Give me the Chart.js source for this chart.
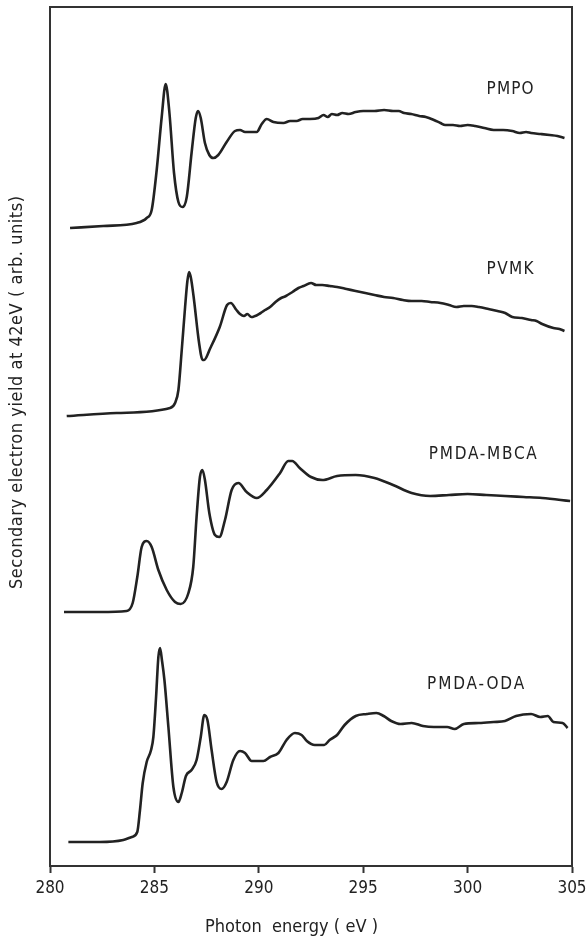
<!DOCTYPE html>
<html>
<head>
<meta charset="utf-8">
<script src="https://cdn.jsdelivr.net/npm/chart.js@4/dist/chart.umd.min.js"></script>
<style>
  html, body { margin: 0; padding: 0; background: #fff; }
  canvas { display: block; }
</style>
</head>
<body>
<canvas id="chart" width="586" height="939"></canvas>
<script>
// photon energy (eV) and secondary electron yield (arb. units, curves stacked)
const pmpoEnergy = [280.96, 282.55, 284.15, 284.63, 284.87, 285.11, 285.35, 285.54, 285.72, 285.94, 286.15, 286.35, 286.55, 286.78, 286.98, 287.09, 287.22, 287.42, 287.63, 287.82, 288.06, 288.46, 288.86, 289.1, 289.34, 289.9, 290.14, 290.38, 290.7, 291.18, 291.5, 291.81, 292.1, 292.45, 292.86, 293.1, 293.3, 293.5, 293.75, 294.0, 294.3, 294.64, 295.0, 295.54, 296.0, 296.43, 296.7, 296.96, 297.3, 297.68, 298.0, 298.39, 298.7, 298.93, 299.3, 299.64, 300.0, 300.36, 300.8, 301.25, 301.7, 302.14, 302.5, 302.8, 303.04, 303.5, 303.93, 304.3, 304.64];
const pmpoYield = [638, 640, 643, 648, 656, 696, 749, 782, 753, 693, 664, 659, 669, 713, 748, 755, 748, 723, 711, 708, 711, 724, 735, 736, 734, 734, 742, 747, 744, 743, 745, 745, 747, 747, 748, 751, 749, 752, 751, 753, 752, 754, 755, 755, 756, 755, 755, 753, 752, 750, 749, 746, 743, 741, 741, 740, 741, 740, 738, 736, 736, 735, 733, 734, 733, 732, 731, 730, 728];

const pvmkEnergy = [280.8, 283.19, 285.75, 285.99, 286.15, 286.31, 286.47, 286.58, 286.66, 286.75, 286.88, 287.14, 287.31, 287.38, 287.68, 288.13, 288.48, 288.66, 288.93, 289.1, 289.29, 289.45, 289.64, 290.09, 290.3, 290.54, 290.8, 291.07, 291.3, 291.61, 291.9, 292.14, 292.5, 292.75, 293.04, 293.4, 293.75, 294.2, 294.64, 295.1, 295.54, 296.0, 296.43, 296.9, 297.32, 297.8, 298.21, 298.7, 299.11, 299.46, 299.82, 300.2, 300.54, 301.0, 301.43, 301.8, 302.14, 302.6, 303.04, 303.3, 303.57, 304.11, 304.4, 304.64];
const pvmkYield = [450, 453, 458, 463, 476, 516, 559, 585, 594, 588, 569, 523, 506, 506, 518, 539, 561, 563, 556, 552, 550, 552, 549, 553, 556, 559, 564, 568, 570, 574, 578, 580, 583, 581, 581, 580, 579, 577, 575, 573, 571, 569, 568, 566, 565, 565, 564, 563, 561, 559, 560, 560, 559, 557, 555, 553, 549, 548, 546, 545, 542, 538, 537, 535];

const mbcaEnergy = [280.67, 282.39, 283.67, 283.96, 284.18, 284.39, 284.63, 284.87, 285.19, 285.59, 285.99, 286.26, 286.63, 286.86, 287.02, 287.18, 287.3, 287.42, 287.63, 287.9, 288.11, 288.38, 288.7, 289.02, 289.42, 289.9, 290.38, 291.02, 291.41, 291.6, 291.96, 292.5, 293.04, 293.75, 294.64, 295.54, 296.43, 297.32, 298.21, 299.11, 300.0, 300.89, 301.79, 302.68, 303.57, 304.91];
const mbcaYield = [254, 254, 255, 263, 289, 319, 325, 319, 296, 276, 264, 262, 273, 299, 349, 389, 396, 386, 353, 331, 329, 346, 376, 383, 374, 368, 376, 393, 405, 405, 398, 389, 386, 390, 391, 388, 381, 373, 370, 371, 372, 371, 370, 369, 368, 365];

const odaEnergy = [280.88, 282.39, 283.51, 283.91, 284.18, 284.31, 284.44, 284.63, 284.84, 284.95, 285.08, 285.19, 285.27, 285.36, 285.48, 285.67, 285.91, 286.15, 286.31, 286.51, 286.78, 287.02, 287.22, 287.39, 287.54, 287.74, 287.98, 288.22, 288.46, 288.78, 289.1, 289.34, 289.66, 290.22, 290.54, 290.94, 291.33, 291.73, 292.05, 292.3, 292.68, 293.13, 293.39, 293.75, 294.11, 294.64, 295.18, 295.63, 295.98, 296.34, 296.79, 297.32, 297.86, 298.39, 299.02, 299.38, 299.82, 300.54, 301.25, 301.79, 302.32, 303.04, 303.48, 303.84, 304.11, 304.55, 304.79];
const odaYield = [24, 24, 26, 29, 34, 56, 83, 104, 116, 129, 169, 209, 218, 206, 186, 139, 79, 64, 73, 90, 96, 106, 129, 151, 146, 116, 84, 77, 84, 106, 115, 113, 105, 105, 109, 113, 126, 133, 131, 125, 121, 121, 126, 131, 141, 150, 152, 153, 150, 145, 142, 143, 140, 139, 139, 137, 142, 143, 144, 145, 150, 152, 149, 150, 144, 143, 138];

const sampleNames = ["PMPO", "PVMK", "PMDA-MBCA", "PMDA-ODA"];
// where each name sits: energy of its left edge, yield of its middle
const nameEnergy = [300.91, 300.91, 298.14, 298.06];
const nameYield = [776, 596, 411, 181];

const xTicks = [280, 285, 290, 295, 300, 305];

const ink = "#222";
const fontFamily = "'DejaVu Sans Condensed', 'DejaVu Sans', sans-serif";
Chart.defaults.font.family = fontFamily;

function toPoints(xs, ys) {
  return xs.map((x, i) => ({ x: x, y: ys[i] }));
}

// stretch text so it covers a given width
function drawFitted(ctx, text, left, y, width) {
  ctx.letterSpacing = "0px";
  const w = ctx.measureText(text).width;
  const ls = (width - w) / (text.length - 1);
  ctx.letterSpacing = ls + "px";
  ctx.textAlign = "left";
  ctx.fillText(text, left, y);
  ctx.letterSpacing = "0px";
}

const decorations = {
  id: "decorations",
  afterDraw(chart) {
    const { ctx, chartArea: a, scales } = chart;
    ctx.save();
    // frame: top, right and left sides (bottom is the x axis line)
    ctx.strokeStyle = "#333";
    ctx.lineWidth = 2;
    ctx.beginPath();
    ctx.moveTo(a.left, a.bottom);
    ctx.lineTo(a.left, a.top);
    ctx.lineTo(a.right, a.top);
    ctx.lineTo(a.right, a.bottom);
    ctx.stroke();

    ctx.fillStyle = ink;
    ctx.textBaseline = "middle";

    // sample names
    ctx.font = "17px " + fontFamily;
    const widths = [47, 47, 108, 97];
    sampleNames.forEach((name, i) => {
      const x = scales.x.getPixelForValue(nameEnergy[i]);
      const y = scales.y.getPixelForValue(nameYield[i]);
      drawFitted(ctx, name, x, y, widths[i]);
    });

    // x axis title
    ctx.font = "18px " + fontFamily;
    drawFitted(ctx, "Photon  energy ( eV )", 205, 927, 173);

    // y axis title
    ctx.translate(17, 393);
    ctx.rotate(-Math.PI / 2);
    ctx.font = "18px " + fontFamily;
    drawFitted(ctx, "Secondary electron yield at 42eV ( arb. units)", -196, 0, 393);
    ctx.restore();
  }
};

const series = [
  toPoints(pmpoEnergy, pmpoYield),
  toPoints(pvmkEnergy, pvmkYield),
  toPoints(mbcaEnergy, mbcaYield),
  toPoints(odaEnergy, odaYield)
];

new Chart(document.getElementById("chart"), {
  type: "line",
  data: {
    datasets: series.map((pts, i) => ({
      label: sampleNames[i],
      data: pts,
      borderColor: ink,
      borderWidth: 2.6,
      pointRadius: 0,
      fill: false,
      cubicInterpolationMode: "monotone"
    }))
  },
  options: {
    responsive: false,
    animation: false,
    layout: { padding: { left: 50, top: 7, right: 14, bottom: 0 } },
    plugins: {
      legend: { display: false },
      tooltip: { enabled: false }
    },
    scales: {
      x: {
        type: "linear",
        min: 280,
        max: 305,
        afterFit: (scale) => {
          scale.height = 73;
          scale.paddingLeft = 0;
          scale.paddingRight = 0;
        },
        afterBuildTicks: (scale) => { scale.ticks = xTicks.map(v => ({ value: v })); },
        ticks: {
          color: ink,
          padding: 5,
          maxRotation: 0,
          font: { size: 17 }
        },
        grid: {
          drawOnChartArea: false,
          drawTicks: true,
          tickLength: 7,
          tickWidth: 2,
          color: "#333"
        },
        border: { display: true, width: 2, color: "#333" }
      },
      y: {
        display: false,
        min: 0,
        max: 859
      }
    }
  },
  plugins: [decorations]
});
</script>
</body>
</html>
